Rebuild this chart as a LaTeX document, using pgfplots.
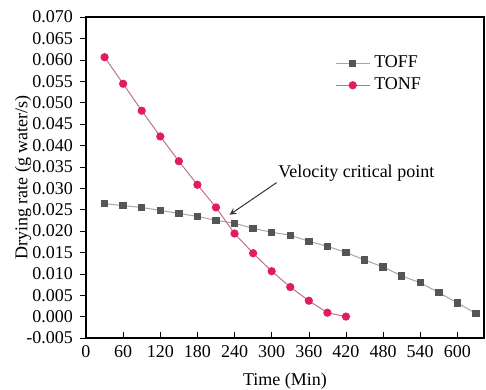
\documentclass[border=0pt]{standalone}
\usepackage{fontspec}
\setmainfont{Liberation Serif}
\usepackage{pgfplots}
\pgfplotsset{compat=1.18}
\definecolor{toff}{RGB}{85,85,85}
\definecolor{tonf}{RGB}{225,30,90}
\begin{document}
\begin{tikzpicture}
\begin{axis}[
  name=a,
  scale only axis,
  width=199pt, height=160.5pt,
  xmin=0, xmax=643,
  ymin=-0.005, ymax=0.070,
  xtick={0,60,...,600},
  ytick={-0.005,0,0.005,0.010,0.015,0.020,0.025,0.030,0.035,0.040,0.045,0.050,0.055,0.060,0.065,0.070},
  scaled y ticks=false,
  y tick label style={/pgf/number format/fixed,/pgf/number format/fixed zerofill,/pgf/number format/precision=3},
  /pgf/number format/assume math mode=true,
  tick label style={font=\fontsize{9}{10.5}\selectfont},
  label style={font=\fontsize{9}{10.5}\selectfont},
  xlabel={Time (Min)},
  ylabel={Drying rate (g water/s)},
  xlabel style={at={(axis description cs:0.5,0)}, anchor=center, yshift=-21.5pt},
  ylabel style={at={(axis description cs:0,0.5)}, anchor=center, yshift=31.5pt},
  xtick pos=bottom, ytick pos=left,
  x tick style={black}, y tick style={black},
  xtick align=inside, ytick align=outside,
  major tick length=3pt,
  axis line style={black, line width=0.6pt},
  legend style={draw=none, fill=none, at={(axis description cs:0.61,0.905)}, anchor=north west,
    font=\fontsize{9}{10.5}\selectfont, row sep=-0.5pt},
  legend cell align=left,
  clip=false,
]
\addplot[color=gray!70, line width=0.5pt, mark=square*, mark size=1.6pt,
  mark options={fill=toff, draw=toff}] coordinates {
(30,0.0264)(60,0.0259)(90,0.0255)(120,0.0248)(150,0.0241)(180,0.0234)
(210,0.0225)(240,0.0218)(270,0.0206)(300,0.0197)(330,0.0190)(360,0.0176)
(390,0.0164)(420,0.0150)(450,0.0132)(480,0.0116)(510,0.0095)(540,0.0079)
(570,0.0056)(600,0.0032)(630,0.0007)};
\addlegendentry{TOFF}
\addplot[color=tonf!50!gray!80, line width=0.5pt, mark=*, mark size=1.8pt,
  mark options={fill=tonf, draw=tonf}] coordinates {
(30,0.0606)(60,0.0544)(90,0.0481)(120,0.0421)(150,0.0363)(180,0.0308)
(210,0.0255)(240,0.0194)(270,0.0148)(300,0.0106)(330,0.0069)(360,0.0037)
(390,0.0009)(420,0.0000)};
\addlegendentry{TONF}
\draw[-stealth, line width=0.5pt, black!80] (axis cs:308,0.0313) -- (axis cs:232,0.0238);
\node[anchor=west, font=\fontsize{9}{10.5}\selectfont, inner sep=0pt] at (axis cs:310,0.0336) {Velocity critical point};
\end{axis}
\pgfresetboundingbox
\useasboundingbox ([shift={(-43pt,-26pt)}]a.south west) rectangle ([shift={(1pt,8.5pt)}]a.north east);
\end{tikzpicture}
\end{document}
